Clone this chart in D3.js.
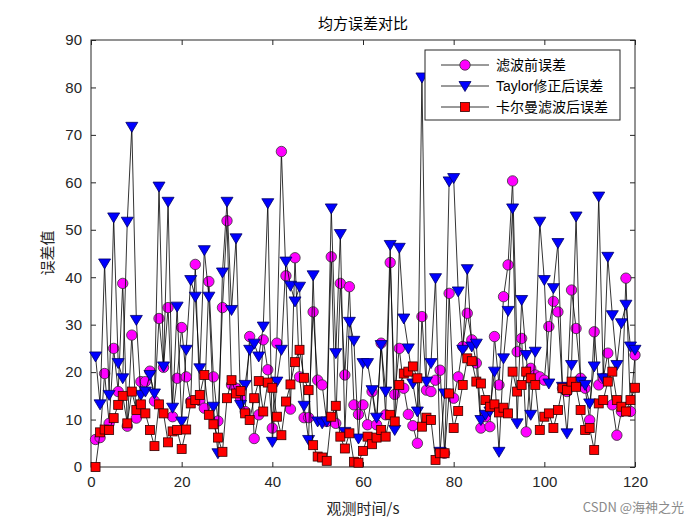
<!DOCTYPE html>
<html><head><meta charset="utf-8">
<script src="https://cdn.jsdelivr.net/npm/d3@7"></script>
<style>body{margin:0;background:#fff}</style>
</head><body><svg id="c" width="700" height="525"></svg>
<script>
const beforeErr=[5.8,6.2,19.7,9.2,25.0,15.9,38.7,8.6,27.8,10.3,18.0,18.0,20.2,13.9,31.3,21.0,33.6,10.6,18.7,29.4,19.0,13.8,42.7,14.0,12.4,39.1,19.0,9.7,33.6,51.9,17.3,16.6,14.5,11.7,27.5,6.0,11.0,26.8,20.5,8.2,26.1,66.5,40.3,12.2,44.1,19.0,10.4,10.4,32.7,18.3,17.3,9.6,44.3,9.2,38.7,19.4,38.0,13.1,11.1,13.1,8.9,15.9,8.9,26.1,11.0,43.1,15.3,25.0,16.6,11.1,8.7,5.0,31.7,16.2,15.9,18.3,20.4,2.9,36.6,14.5,19.0,25.4,32.4,26.8,21.9,8.2,10.6,8.5,27.5,17.3,35.9,42.6,60.3,24.3,27.1,7.4,20.8,19.4,19.0,18.3,29.6,34.9,32.7,16.6,15.9,37.3,29.2,18.7,16.6,9.9,28.5,17.3,18.7,24.0,13.1,6.7,11.7,39.8,11.7,23.6];
const taylorErr=[23.3,13.2,42.9,15.2,52.6,21.9,18.7,51.7,71.7,31.0,15.2,15.9,19.4,15.5,59.1,21.2,55.9,12.5,33.8,9.6,24.7,39.4,35.9,20.8,45.7,35.9,12.7,2.9,41.0,55.9,33.1,48.2,13.1,17.3,24.7,26.0,23.3,29.6,55.6,5.3,18.0,24.7,43.3,38.2,34.9,38.0,12.9,5.7,40.4,9.6,9.2,9.6,54.5,24.0,49.1,7.4,30.6,26.6,6.0,21.9,21.9,16.2,10.4,25.7,15.9,46.8,7.8,46.2,31.3,25.0,17.6,11.7,82.1,18.0,21.9,39.8,3.2,15.5,60.2,60.9,37.0,24.7,41.7,25.4,26.0,9.9,11.0,11.7,20.1,3.2,22.9,32.9,54.5,9.2,35.2,23.6,11.0,24.3,51.7,39.4,17.6,37.7,47.2,16.9,7.1,21.5,52.8,18.0,17.3,13.4,21.2,57.0,18.7,44.3,32.0,21.5,30.3,34.2,25.4,24.7];
const kalmanErr=[0,7.3,7.9,7.8,10.3,13.1,15.0,9.2,15.9,12.0,13.2,11.3,7.8,4.4,13.2,11.3,5.2,7.5,7.8,3.8,7.9,13.4,14.1,15.2,19.4,11.0,9.0,6.2,3.2,14.5,18.3,15.5,16.0,11.3,9.9,14.5,18.1,11.7,17.8,16.7,10.6,6.7,13.8,17.4,22.1,24.7,18.8,16.2,4.6,2.2,2.0,1.3,10.6,12.9,6.4,3.9,7.1,1.1,0.9,3.4,6.4,4.8,6.2,7.8,6.4,11.0,9.6,17.3,19.7,20.1,21.2,18.7,8.5,10.4,9.9,1.5,2.9,2.9,15.5,8.2,11.8,17.3,22.9,22.3,18.0,17.6,14.1,12.7,13.2,11.5,12.5,11.3,20.1,15.9,17.3,20.1,18.7,17.3,7.8,10.6,11.3,8.2,12.0,16.6,16.2,18.0,16.9,12.0,7.8,8.2,3.6,13.4,14.1,18.0,20.1,14.1,12.7,11.7,14.1,16.7];
const seriesNames=["滤波前误差","Taylor修正后误差","卡尔曼滤波后误差"];
const xTicks=[0,20,40,60,80,100,120];
const yTicks=[0,10,20,30,40,50,60,70,80,90];
const titleText="均方误差对比", xLabel="观测时间/s", yLabel="误差值", watermark="CSDN @海神之光";

const svg=d3.select("#c");
const L=91,R=635,T=40,B=467;
const x=d3.scaleLinear().domain([0,120]).range([L,R]);
const y=d3.scaleLinear().domain([0,90]).range([B,T]);
const tickFont='"Liberation Sans", Arial, sans-serif';
const cjk='"Noto Sans CJK SC", sans-serif';

// axes
const gx=svg.append("g").attr("transform",`translate(0,${B})`).call(d3.axisBottom(x).tickValues(xTicks).tickSize(-5).tickPadding(9));
const gxt=svg.append("g").attr("transform",`translate(0,${T})`).call(d3.axisTop(x).tickValues(xTicks).tickSize(-5).tickFormat(""));
const gy=svg.append("g").attr("transform",`translate(${L},0)`).call(d3.axisLeft(y).tickValues(yTicks).tickSize(-5).tickPadding(9));
const gyr=svg.append("g").attr("transform",`translate(${R},0)`).call(d3.axisRight(y).tickValues(yTicks).tickSize(-5).tickFormat(""));
[gx,gxt,gy,gyr].forEach(g=>{g.select(".domain").remove();g.selectAll("line").attr("stroke","#262626");g.selectAll("text").attr("font-family",tickFont).attr("font-size",15).attr("fill","#262626");});
svg.append("rect").attr("x",L).attr("y",T).attr("width",R-L).attr("height",B-T).attr("fill","none").attr("stroke","#262626").attr("stroke-width",1);

const series=[
 {data:beforeErr,shape:"circle",fill:"#ff00ff",edge:"#333"},
 {data:taylorErr,shape:"tri",fill:"#0000ff",edge:"#000066"},
 {data:kalmanErr,shape:"square",fill:"#ff0000",edge:"#330000"}
];
function marker(g,shape,cx,cy,fill,edge){
  if(shape==="circle") g.append("circle").attr("cx",cx).attr("cy",cy).attr("r",5.2).attr("fill",fill).attr("stroke",edge).attr("stroke-width",0.8);
  else if(shape==="tri") g.append("path").attr("d",`M${cx-6},${cy-4.5}L${cx+6},${cy-4.5}L${cx},${cy+5.5}Z`).attr("fill",fill).attr("stroke",edge).attr("stroke-width",0.8);
  else g.append("rect").attr("x",cx-4.5).attr("y",cy-4.5).attr("width",9).attr("height",9).attr("fill",fill).attr("stroke",edge).attr("stroke-width",0.8);
}
const line=d3.line().x((d,i)=>x(i+1)).y(d=>y(d));
series.forEach(s=>{
  const g=svg.append("g");
  g.append("path").attr("d",line(s.data)).attr("fill","none").attr("stroke","#000").attr("stroke-width",0.8);
  s.data.forEach((v,i)=>marker(g,s.shape,x(i+1),y(v),s.fill,s.edge));
});

// legend
const lg=svg.append("g");
lg.append("rect").attr("x",425).attr("y",50).attr("width",195).attr("height",70).attr("fill","#fff").attr("stroke","#262626").attr("stroke-width",1);
series.forEach((s,k)=>{
  const yy=65+k*21;
  lg.append("line").attr("x1",441).attr("x2",489).attr("y1",yy).attr("y2",yy).attr("stroke","#000").attr("stroke-width",0.8);
  marker(lg,s.shape,465,yy,s.fill,s.edge);
  lg.append("text").attr("x",496).attr("y",yy+5).attr("font-family",k===1?`"Liberation Sans", ${cjk}`:cjk).attr("font-size",14).attr("fill","#000").text(seriesNames[k]);
});

svg.append("text").attr("x",363).attr("y",29).attr("text-anchor","middle").attr("font-family",cjk).attr("font-size",15).attr("fill","#000").text(titleText);
svg.append("text").attr("x",363).attr("y",514).attr("text-anchor","middle").attr("font-family",cjk).attr("font-size",15).attr("fill","#262626").text(xLabel);
svg.append("text").attr("transform","translate(53,253) rotate(-90)").attr("text-anchor","middle").attr("font-family",cjk).attr("font-size",15).attr("fill","#262626").text(yLabel);
svg.append("text").attr("x",684).attr("y",512).attr("text-anchor","end").attr("font-family",cjk).attr("font-size",13).attr("fill","#8a8a8a").text(watermark);
</script></body></html>
